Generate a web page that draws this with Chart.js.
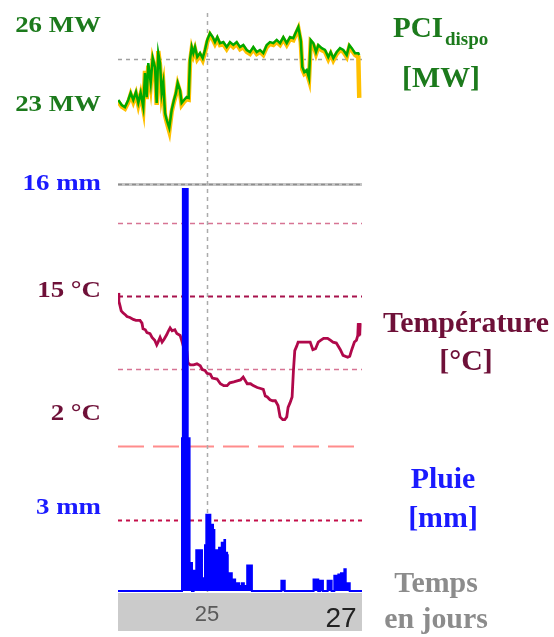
<!DOCTYPE html>
<html><head><meta charset="utf-8">
<script src="https://cdn.jsdelivr.net/npm/chart.js@4"></script>
<style>html,body{margin:0;padding:0;background:#fff;}canvas{display:block;}</style>
</head><body>
<canvas id="c" width="554" height="637"></canvas>
<script>
// ---- data (time in days) ----
const pciT = [
 23.676,23.727,23.776,23.825,23.861,23.900,23.940,23.975,24.010,24.049,
 24.075,24.100,24.124,24.160,24.190,24.224,24.249,24.273,24.299,24.324,
 24.348,24.373,24.399,24.437,24.473,24.507,24.537,24.563,24.597,24.622,
 24.657,24.697,24.727,24.746,24.772,24.796,24.821,24.855,24.896,24.936,
 24.970,25.004,25.045,25.085,25.119,25.154,25.194,25.243,25.294,25.343,
 25.393,25.443,25.493,25.542,25.593,25.642,25.691,25.742,25.791,25.840,
 25.891,25.940,25.990,26.040,26.090,26.139,26.190,26.239,26.288,26.328,
 26.363,26.399,26.422,26.452,26.488,26.522,26.548,26.587,26.627,26.661,
 26.712,26.761,26.810,26.846,26.885,26.936,26.985,27.034,27.085,27.124,
 27.160,27.209,27.258,27.272];
const pciGreen = [
 23.19,23.00,22.92,23.19,23.46,23.19,23.49,23.08,23.46,22.92,
 24.21,23.30,24.59,23.84,24.78,24.44,23.08,24.97,24.59,23.46,
 23.84,22.70,22.43,22.13,22.81,23.19,23.46,23.84,23.57,23.08,
 23.19,23.30,23.27,24.71,25.20,24.97,25.20,24.82,24.97,24.78,
 25.09,25.47,25.73,25.58,25.39,25.58,25.35,25.39,25.20,25.39,
 25.28,25.39,25.20,25.28,25.09,25.01,25.20,25.01,25.09,24.97,
 25.28,25.39,25.35,25.47,25.35,25.58,25.35,25.58,25.54,25.77,
 25.96,25.47,24.44,24.25,24.33,24.03,25.47,25.35,25.01,25.28,
 25.16,25.09,24.82,25.01,24.78,25.01,25.16,25.09,24.90,25.28,
 25.16,24.97,24.97,24.90];
const pciYellow = [
 23.12,22.94,22.86,23.10,23.40,23.12,23.42,23.00,23.40,22.85,
 24.30,23.22,24.50,23.76,24.70,24.36,23.00,25.05,24.50,23.40,
 23.76,22.62,22.35,22.00,22.74,23.12,23.40,23.78,23.50,23.00,
 23.12,23.22,23.20,24.60,25.12,24.90,25.12,24.74,24.90,24.70,
 25.00,25.40,25.66,25.50,25.32,25.50,25.28,25.32,25.12,25.32,
 25.20,25.32,25.12,25.20,25.02,24.94,25.12,24.94,25.02,24.90,
 25.20,25.32,25.28,25.40,25.28,25.50,25.28,25.50,25.46,25.70,
 25.90,25.40,24.36,24.18,24.25,23.95,25.40,25.28,24.94,25.20,
 25.08,25.02,24.74,24.94,24.70,24.94,25.08,25.02,24.82,25.20,
 25.08,24.90,24.82,23.27];
const tempT = [
 23.672,23.685,23.700,23.720,23.746,23.780,23.806,23.850,23.900,23.940,
 24.000,24.030,24.045,24.080,24.104,24.150,24.180,24.220,24.250,24.270,
 24.300,24.330,24.360,24.400,24.420,24.450,24.480,24.520,24.550,24.600,
 24.630,24.660,24.700,24.716,24.750,24.800,24.850,24.900,24.930,24.970,
 25.000,25.050,25.080,25.150,25.200,25.250,25.300,25.340,25.400,25.450,
 25.500,25.540,25.600,25.650,25.690,25.750,25.800,25.840,25.870,25.900,
 25.940,25.980,26.020,26.060,26.090,26.130,26.160,26.190,26.210,26.240,
 26.270,26.290,26.310,26.340,26.360,26.450,26.540,26.580,26.620,26.660,
 26.700,26.740,26.800,26.840,26.880,26.930,26.990,27.030,27.100,27.130,
 27.160,27.200,27.230,27.250,27.258,27.265,27.272,27.279,27.286];
const tempV = [
 14.8,13.9,13.5,12.9,12.7,12.5,12.3,12.2,12.0,11.9,
 11.9,11.6,11.0,10.9,10.6,10.5,10.1,9.8,9.3,9.6,
 10.1,9.6,9.9,10.4,10.7,11.1,10.8,10.9,10.5,10.3,
 9.6,8.8,8.6,7.4,7.2,7.2,7.3,7.1,6.7,6.6,
 6.3,6.2,5.8,5.7,5.2,5.0,5.0,5.3,5.4,5.5,
 5.6,5.9,5.2,5.2,5.0,4.8,4.7,4.6,3.9,3.8,
 3.5,3.4,3.4,2.9,1.7,1.4,1.4,1.7,2.7,3.2,
 3.8,6.6,8.7,9.2,9.6,9.6,9.6,8.8,8.9,9.6,
 9.8,10.0,10.0,9.8,9.6,9.5,8.8,8.2,8.0,8.1,
 8.8,9.6,9.8,10.3,11.6,10.2,11.6,10.3,11.6];
const rainT = [
 23.672,24.620,24.627,24.640,24.712,24.740,24.776,24.800,24.820,24.840,
 24.925,24.970,24.990,25.050,25.090,25.110,25.150,25.180,25.220,25.260,
 25.270,25.300,25.310,25.370,25.420,25.480,25.520,25.550,25.600,25.670,
 26.110,26.160,26.590,26.660,26.690,26.730,26.800,26.860,26.900,26.960,
 27.000,27.030,27.050,27.070,27.130,27.313];
const rainV = [
 0,0,6.0,15.8,6.0,1.1,0,0.8,0.6,1.6,
 0.5,1.8,3.0,2.6,2.4,1.6,1.2,1.7,1.9,2.0,
 1.5,1.4,0.7,0.45,0.3,0.2,0.3,0.2,1.0,0,
 0.4,0,0.45,0,0.4,0,0.4,0,0.6,0.65,
 0.7,0.6,0.85,0.3,0,0];

// ---- ticks / labels ----
const xTickValues = [25, 27];
const xTickLabels = ['25', '27'];
const pciTickValues = [26, 23];
const pciTickLabels = ['26 MW', '23 MW'];
const rainTickValues = [16, 3];
const rainTickLabels = ['16 mm', '3 mm'];
const tempTickValues = [15, 2];
const tempTickLabels = ['15 °C', '2 °C'];

// ---- styles ----
const GREEN = '#1c7a1c', MAROON = '#6e1038', BLUE = '#1a1aff', GREY = '#8c8c8c';
const SERIF = '"Liberation Serif", "Times New Roman", serif';
const gridLines = [
  {axis:'yP', value:24.75, color:'#a0a0a0', width:1.5, dash:[4,4]},
  {axis:'yR', value:16,   color:'#c6c6c6', width:3,   dash:[]},
  {axis:'yR', value:16,   color:'#8e8e8e', width:1.5, dash:[4,3]},
  {axis:'yT', value:22.2, color:'#d77494', width:1.5, dash:[5,4]},
  {axis:'yT', value:14.5, color:'#a8124c', width:2,   dash:[5,4]},
  {axis:'yT', value:6.75, color:'#d77494', width:1.5, dash:[5,4]},
  {axis:'yT', value:-1.4, color:'#ff8c8c', width:2,   dash:[26,9]},
  {axis:'yR', value:2.8,  color:'#c4104a', width:2,   dash:[4,4]}
];
const leftLabels = [
  {axis:'yP', values:pciTickValues, labels:pciTickLabels, color:GREEN, nudge:[0,0]},
  {axis:'yR', values:rainTickValues, labels:rainTickLabels, color:BLUE, nudge:[0,-7]},
  {axis:'yT', values:tempTickValues, labels:tempTickLabels, color:MAROON, nudge:[0,0]}
];
const titles = [
  {text:'[MW]', x:441, y:87, color:GREEN, size:29},
  {text:'Température', x:466, y:332, color:MAROON, size:29},
  {text:'[°C]', x:466, y:370, color:MAROON, size:29},
  {text:'Pluie', x:443, y:488, color:BLUE, size:29},
  {text:'[mm]', x:443, y:527, color:BLUE, size:29},
  {text:'Temps', x:436, y:592, color:GREY, size:29},
  {text:'en jours', x:436, y:628, color:GREY, size:29}
];

function txt(ctx, s, x, y, size, color, align, baseline, sx) {
  ctx.save();
  ctx.font = 'bold ' + size + 'px ' + SERIF;
  ctx.fillStyle = color; ctx.textAlign = align; ctx.textBaseline = baseline;
  ctx.translate(x, y); ctx.scale(sx || 1, 1);
  ctx.fillText(s, 0, 0);
  ctx.restore();
}

const decor = {
  id: 'decor',
  beforeDraw(chart) {
    const ctx = chart.ctx, xs = chart.scales.x;
    ctx.save();
    ctx.fillStyle = '#cbcbcb';
    ctx.fillRect(xs.left, xs.top + 1, xs.right - xs.left, xs.bottom - xs.top - 2);
    ctx.restore();
  },
  beforeDatasetsDraw(chart) {
    const ctx = chart.ctx, a = chart.chartArea;
    ctx.save();
    gridLines.forEach(g => {
      const y = Math.round(chart.scales[g.axis].getPixelForValue(g.value)) + 0.5;
      ctx.beginPath(); ctx.setLineDash(g.dash); ctx.lineWidth = g.width; ctx.strokeStyle = g.color;
      ctx.moveTo(a.left, y); ctx.lineTo(a.right, y); ctx.stroke();
    });
    const vx = Math.round(chart.scales.x.getPixelForValue(xTickValues[0])) + 0.5;
    ctx.beginPath(); ctx.setLineDash([4,4]); ctx.lineWidth = 1.5; ctx.strokeStyle = '#ababab';
    ctx.moveTo(vx, a.top); ctx.lineTo(vx, a.bottom); ctx.stroke();
    ctx.restore();
  },
  afterDraw(chart) {
    const ctx = chart.ctx, a = chart.chartArea;
    leftLabels.forEach(L => {
      const sc = chart.scales[L.axis];
      L.values.forEach((v, i) => {
        txt(ctx, L.labels[i], a.left - 17, sc.getPixelForValue(v) + L.nudge[i], 24, L.color, 'right', 'middle', 1.12);
      });
    });
    // PCI with subscript
    txt(ctx, 'PCI', 393, 37, 29, GREEN, 'left', 'alphabetic', 1.0);
    txt(ctx, 'dispo', 445, 45, 19, GREEN, 'left', 'alphabetic', 1.0);
    titles.forEach(t => txt(ctx, t.text, t.x, t.y, t.size, t.color, 'center', 'alphabetic', 1.03));
  }
};

const pts = (T, V) => T.map((t, i) => ({x: t, y: V[i]}));

new Chart(document.getElementById('c'), {
  type: 'line',
  data: {
    datasets: [
      {label:'Pluie', data: pts(rainT, rainV), yAxisID:'yR', stepped:'before',
       borderColor:'#0000ff', backgroundColor:'#0000ff', borderWidth:2, fill:'origin',
       pointRadius:0, borderJoinStyle:'miter'},
      {label:'PCI', data: pts(pciT, pciGreen), yAxisID:'yP', borderColor:'#00a800',
       borderWidth:2.5, pointRadius:0, tension:0, fill:false},
      {label:'PCI dispo', data: pts(pciT, pciYellow), yAxisID:'yP', borderColor:'#ffc000',
       borderWidth:4.5, pointRadius:0, tension:0, fill:false},
      {label:'Température', data: pts(tempT, tempV), yAxisID:'yT', borderColor:'#b0084a',
       borderWidth:2.8, pointRadius:0, tension:0, fill:false}
    ]
  },
  options: {
    responsive:false, animation:false, devicePixelRatio:1,
    layout:{padding:{left:118, right:192, top:13, bottom:5}},
    plugins:{legend:{display:false}, tooltip:{enabled:false}},
    scales:{
      x:{type:'linear', position:'bottom', min:23.672, max:27.313,
         grid:{display:false, drawTicks:false}, border:{display:false},
         afterBuildTicks(s){ s.ticks = xTickValues.map(v => ({value:v})); },
         afterFit(s){ s.height = 40; },
         ticks:{autoSkip:false, maxRotation:0, padding:10,
           callback:(v) => xTickLabels[xTickValues.indexOf(v)],
           font:(c) => (c.tick && c.tick.value === 27) ? {family:'"Liberation Sans", Arial, sans-serif', size:28} : {family:'"Liberation Sans", Arial, sans-serif', size:22},
           color:(c) => (c.tick && c.tick.value === 27) ? '#222222' : '#5a5a5a'}},
      yP:{display:false, min:4.504, max:26.494},
      yT:{display:false, min:-16.81, max:44.38},
      yR:{display:false, min:-0.04, max:22.72}
    }
  },
  plugins:[decor]
});
</script>
</body></html>
